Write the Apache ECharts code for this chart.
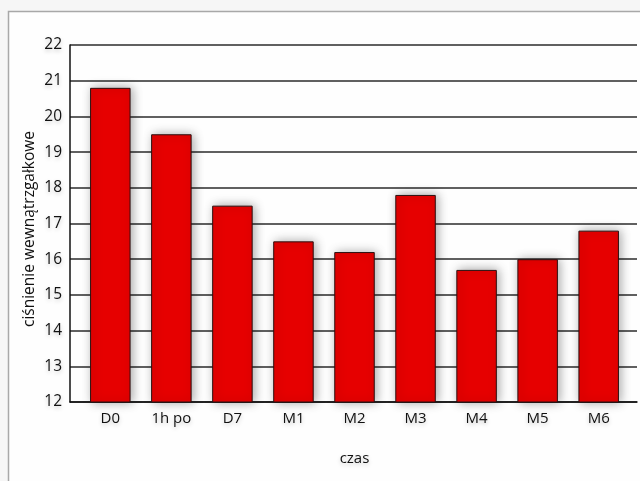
<!DOCTYPE html>
<html>
<head>
<meta charset="utf-8">
<script src="https://cdn.jsdelivr.net/npm/echarts@6/dist/echarts.min.js"></script>
<style>
  html, body { margin: 0; padding: 0; background: #f6f6f6; }
  #chart { width: 640px; height: 481px; }
</style>
</head>
<body>
<div id="chart"></div>
<script>
// Ciśnienie wewnątrzgałkowe w kolejnych punktach pomiarowych
const categories = ['D0', '1h po', 'D7', 'M1', 'M2', 'M3', 'M4', 'M5', 'M6'];
const pressureValues = [20.8, 19.5, 17.5, 16.5, 16.2, 17.8, 15.7, 16.0, 16.8];
const yTicks = [12, 13, 14, 15, 16, 17, 18, 19, 20, 21, 22];

const yMin = yTicks[0];
const yMax = yTicks[yTicks.length - 1];
const font = '"Open Sans", "Noto Sans", sans-serif';
const textGlow = {
  textShadowColor: 'rgba(0,0,0,0.22)',
  textShadowBlur: 4,
  textShadowOffsetY: 2
};

const chart = echarts.init(document.getElementById('chart'), null, { renderer: 'canvas' });

chart.setOption({
  backgroundColor: '#f6f6f6',
  animation: false,
  graphic: [
    {
      type: 'rect',
      z: -10,
      shape: { x: 8.5, y: 11.5, width: 700, height: 500 },
      style: { fill: '#fefefe', stroke: '#a8a8a8', lineWidth: 1.5 }
    },
    {
      // y-axis title, read bottom to top
      type: 'text',
      x: 30,
      y: 229,
      rotation: Math.PI / 2,
      style: {
        text: 'ciśnienie wewnątrzgałkowe',
        font: '15.5px ' + font,
        fill: '#111',
        align: 'center',
        verticalAlign: 'middle',
        shadowColor: 'rgba(0,0,0,0.22)',
        shadowBlur: 4
      }
    }
  ],
  grid: [
    { left: 70, right: 3, top: 45, bottom: 79 },
    { left: 79.8, right: 10.8, top: 45, bottom: 79 }
  ],
  xAxis: [
    {
      type: 'category',
      gridIndex: 0,
      data: categories,
      axisLine: { show: true, lineStyle: { color: '#111', width: 1.5 } },
      axisTick: { show: false },
      axisLabel: { show: false },
      splitLine: { show: false }
    },
    {
      type: 'category',
      gridIndex: 1,
      data: categories,
      name: 'czas',
      nameLocation: 'middle',
      nameGap: 49,
      nameTextStyle: Object.assign({ fontFamily: font, fontSize: 15, color: '#111' }, textGlow),
      axisLine: { show: false },
      axisTick: { show: false },
      axisLabel: Object.assign({
        fontFamily: font,
        fontSize: 15,
        color: '#111',
        margin: 9,
        interval: 0
      }, textGlow)
    }
  ],
  yAxis: [
    {
      type: 'value',
      gridIndex: 0,
      min: yMin,
      max: yMax,
      interval: 1,
      axisLine: { show: true, lineStyle: { color: '#111', width: 1.5 } },
      axisTick: { show: false },
      axisLabel: Object.assign({
        fontFamily: font,
        fontSize: 15.5,
        color: '#111',
        margin: 8
      }, textGlow),
      splitLine: { show: true, lineStyle: { color: '#2b2b2b', width: 1.5 } }
    },
    {
      type: 'value',
      gridIndex: 1,
      min: yMin,
      max: yMax,
      interval: 1,
      show: false,
      splitLine: { show: false }
    }
  ],
  series: [
    {
      type: 'bar',
      xAxisIndex: 1,
      yAxisIndex: 1,
      data: pressureValues,
      barWidth: 40.5,
      itemStyle: {
        color: '#e60000',
        borderColor: '#2a1010',
        borderWidth: 1,
        shadowColor: 'rgba(0,0,0,0.35)',
        shadowBlur: 10,
        shadowOffsetX: 2,
        shadowOffsetY: 0
      }
    }
  ]
});
</script>
</body>
</html>
